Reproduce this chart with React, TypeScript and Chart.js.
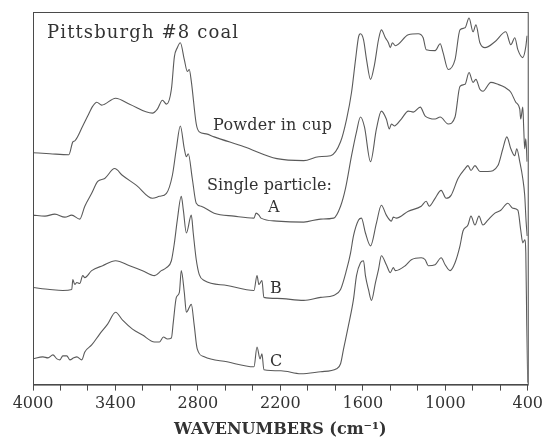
import React, { useEffect, useRef } from "react";
import { Chart, registerables } from "chart.js";

Chart.register(...registerables);

// Wavenumbers (cm^-1) and relative absorbance (arbitrary, offset traces)
const powderWn = [4000, 3877, 3739, 3710, 3696, 3638, 3602, 3565, 3536, 3500, 3399, 3297, 3131, 3095, 3058, 3029, 2993, 2971, 2950, 2928, 2899, 2877, 2863, 2848, 2812, 2790, 2740, 2682, 2464, 2225, 2030, 1921, 1834, 1762, 1718, 1682, 1653, 1631, 1617, 1595, 1573, 1544, 1515, 1486, 1465, 1436, 1414, 1400, 1385, 1363, 1269, 1197, 1161, 1139, 1074, 1037, 1016, 979, 929, 893, 856, 827, 798, 777, 748, 711, 639, 559, 523, 494, 472, 436, 414, 405];
const powderAbs = [234, 233, 232, 245, 246, 261, 271, 281, 285, 282, 289, 283, 274, 278, 287, 283, 298, 331, 340, 345, 328, 316, 318, 306, 263, 255, 253, 250, 240, 228, 226, 230, 231, 245, 268, 295, 328, 351, 354, 348, 328, 308, 323, 348, 358, 350, 345, 340, 345, 342, 353, 354, 350, 338, 337, 344, 335, 318, 328, 358, 360, 370, 356, 363, 345, 340, 346, 356, 343, 350, 338, 330, 341, 352];

const particleAWn = [4000, 3913, 3841, 3768, 3718, 3660, 3623, 3573, 3529, 3478, 3406, 3348, 3247, 3131, 3080, 3029, 2986, 2957, 2928, 2899, 2884, 2870, 2841, 2812, 2776, 2682, 2537, 2392, 2377, 2356, 2341, 2225, 2030, 1907, 1812, 1762, 1726, 1682, 1646, 1617, 1588, 1544, 1501, 1465, 1429, 1407, 1392, 1371, 1320, 1269, 1233, 1182, 1146, 1074, 1037, 979, 929, 893, 856, 827, 798, 777, 748, 726, 668, 617, 567, 523, 487, 458, 451, 436, 429, 422, 414, 405];
const particleAAbs = [171, 170, 172, 169, 171, 167, 180, 193, 205, 208, 218, 211, 201, 188, 190, 193, 211, 238, 261, 238, 230, 233, 208, 183, 180, 173, 170, 168, 173, 171, 168, 165, 164, 167, 168, 180, 198, 231, 255, 270, 260, 225, 258, 276, 268, 258, 263, 261, 268, 276, 275, 280, 271, 268, 270, 263, 270, 301, 303, 315, 305, 308, 298, 296, 305, 303, 300, 295, 285, 278, 268, 280, 258, 238, 248, 225];

const particleBWn = [4000, 3877, 3783, 3718, 3710, 3696, 3681, 3660, 3638, 3623, 3573, 3493, 3399, 3297, 3203, 3116, 3066, 3029, 2993, 2971, 2950, 2921, 2906, 2884, 2848, 2834, 2812, 2790, 2754, 2588, 2392, 2370, 2356, 2334, 2320, 2225, 2030, 1907, 1812, 1762, 1718, 1689, 1668, 1631, 1610, 1581, 1544, 1501, 1465, 1429, 1392, 1378, 1356, 1269, 1175, 1139, 1117, 1074, 1030, 994, 958, 907, 856, 835, 813, 784, 748, 690, 617, 581, 552, 523, 494, 480, 458, 436, 422, 412, 404];
const particleBAbs = [98, 96, 95, 96, 106, 101, 103, 102, 110, 108, 115, 120, 125, 120, 115, 110, 115, 118, 125, 143, 166, 190, 176, 153, 171, 153, 126, 111, 105, 100, 95, 110, 101, 105, 88, 87, 85, 88, 90, 96, 116, 133, 150, 166, 168, 153, 140, 163, 181, 171, 165, 169, 168, 175, 180, 185, 180, 188, 196, 188, 191, 208, 218, 221, 216, 221, 215, 215, 221, 238, 250, 238, 231, 238, 225, 208, 191, 165, 150];

const particleCWn = [4000, 3928, 3891, 3855, 3826, 3804, 3783, 3754, 3732, 3703, 3681, 3645, 3623, 3573, 3515, 3457, 3399, 3348, 3276, 3203, 3116, 3080, 3051, 3022, 2993, 2979, 2957, 2935, 2921, 2899, 2884, 2848, 2827, 2805, 2754, 2588, 2392, 2370, 2348, 2334, 2320, 2196, 2051, 1907, 1791, 1762, 1740, 1704, 1668, 1646, 1617, 1595, 1581, 1559, 1537, 1508, 1486, 1465, 1429, 1400, 1378, 1363, 1291, 1247, 1175, 1146, 1124, 1074, 1030, 1001, 965, 929, 893, 871, 835, 813, 784, 755, 726, 690, 639, 596, 545, 509, 472, 451, 436, 422, 414, 407, 400];
const particleCAbs = [26, 28, 27, 30, 26, 25, 29, 29, 25, 27, 28, 25, 33, 40, 51, 61, 73, 65, 56, 50, 43, 43, 48, 46, 47, 63, 88, 93, 115, 93, 73, 81, 60, 36, 28, 23, 18, 38, 26, 31, 15, 14, 11, 13, 16, 21, 36, 60, 86, 110, 123, 125, 110, 96, 85, 103, 116, 130, 121, 113, 118, 115, 120, 126, 128, 126, 120, 121, 128, 121, 115, 123, 140, 155, 161, 170, 161, 170, 161, 166, 173, 176, 183, 178, 176, 156, 143, 146, 133, 60, 2];

const xTickStart = 4000;
const xTickEnd = 400;
const xMinorStep = 200;
const xLabelStep = 600;

const chartTitle = "Pittsburgh #8 coal";
const xAxisTitle = "WAVENUMBERS (cm\u207B\u00B9)";
const annotations = [
  { text: "Powder in cup", x: 213, y: 130, width: 119 },
  { text: "Single particle:", x: 207, y: 190, width: 125 },
  { text: "A", x: 268, y: 212, width: 0 },
  { text: "B", x: 270, y: 293, width: 0 },
  { text: "C", x: 270, y: 366, width: 0 },
];

const traceColor = "#5a5a5a";
const inkColor = "#333333";
const serif = "'DejaVu Serif', serif";

function toPoints(wn: number[], abs: number[]) {
  return wn.map((w, i) => ({ x: w, y: abs[i] }));
}

function drawFitted(ctx: CanvasRenderingContext2D, text: string, x: number, y: number, width: number) {
  (ctx as any).letterSpacing = "0px";
  if (width > 0 && text.length > 1) {
    const w = ctx.measureText(text).width;
    const sp = (width - w) / (text.length - 1);
    (ctx as any).letterSpacing = `${sp.toFixed(2)}px`;
  }
  ctx.fillText(text, x, y);
  (ctx as any).letterSpacing = "0px";
}

const decorPlugin = {
  id: "decor",
  afterDraw(chart: any) {
    const { ctx, chartArea } = chart;
    ctx.save();
    ctx.strokeStyle = "#4a4a4a";
    ctx.lineWidth = 1;
    ctx.strokeRect(chartArea.left + 0.5, chartArea.top + 0.5, chartArea.right - chartArea.left, chartArea.bottom - chartArea.top);
    ctx.fillStyle = inkColor;
    ctx.textBaseline = "alphabetic";
    ctx.textAlign = "left";
    ctx.font = `18px ${serif}`;
    drawFitted(ctx, chartTitle, 47, 38, 191);
    ctx.font = `16px ${serif}`;
    for (const a of annotations) {
      drawFitted(ctx, a.text, a.x, a.y, a.width);
    }
    ctx.restore();
  },
};

export default function App() {
  const ref = useRef<HTMLCanvasElement | null>(null);
  useEffect(() => {
    if (!ref.current) return;
    const mk = (data: any[]) => ({
      data,
      borderColor: traceColor,
      borderWidth: 1.1,
      pointRadius: 0,
      fill: false,
      cubicInterpolationMode: "monotone" as const,
    });
    const chart = new Chart(ref.current, {
      type: "line",
      data: {
        datasets: [
          { label: "Powder in cup", ...mk(toPoints(powderWn, powderAbs)) },
          { label: "A", ...mk(toPoints(particleAWn, particleAAbs)) },
          { label: "B", ...mk(toPoints(particleBWn, particleBAbs)) },
          { label: "C", ...mk(toPoints(particleCWn, particleCAbs)) },
        ],
      },
      options: {
        animation: false,
        responsive: false,
        maintainAspectRatio: false,
        layout: { padding: { left: 33, right: 17, top: 12, bottom: 0 } },
        plugins: { legend: { display: false }, tooltip: { enabled: false } },
        scales: {
          x: {
            type: "linear",
            reverse: true,
            min: xTickEnd,
            max: xTickStart,
            border: { display: true, color: "#4a4a4a", width: 1 },
            grid: { drawOnChartArea: false, drawTicks: true, tickLength: 6, color: "#4a4a4a" },
            ticks: {
              stepSize: xMinorStep,
              autoSkip: false,
              maxRotation: 0,
              padding: 4,
              color: inkColor,
              font: { family: serif, size: 16 },
              callback: (v: any) => ((xTickStart - Number(v)) % xLabelStep === 0 ? String(v) : ""),
            },
            title: {
              display: true,
              text: xAxisTitle,
              color: inkColor,
              font: { family: serif, size: 16, weight: "bold" },
              padding: { top: 2, bottom: 0 },
            },
          },
          y: {
            display: false,
            min: 0,
            max: 376,
          },
        },
      },
      plugins: [decorPlugin],
    });
    return () => chart.destroy();
  }, []);
  return (
    <div style={{ position: "absolute", left: 0, top: 0, width: 547, height: 439, background: "#fff" }}>
      <canvas ref={ref} width={547} height={439} style={{ display: "block" }} />
    </div>
  );
}
